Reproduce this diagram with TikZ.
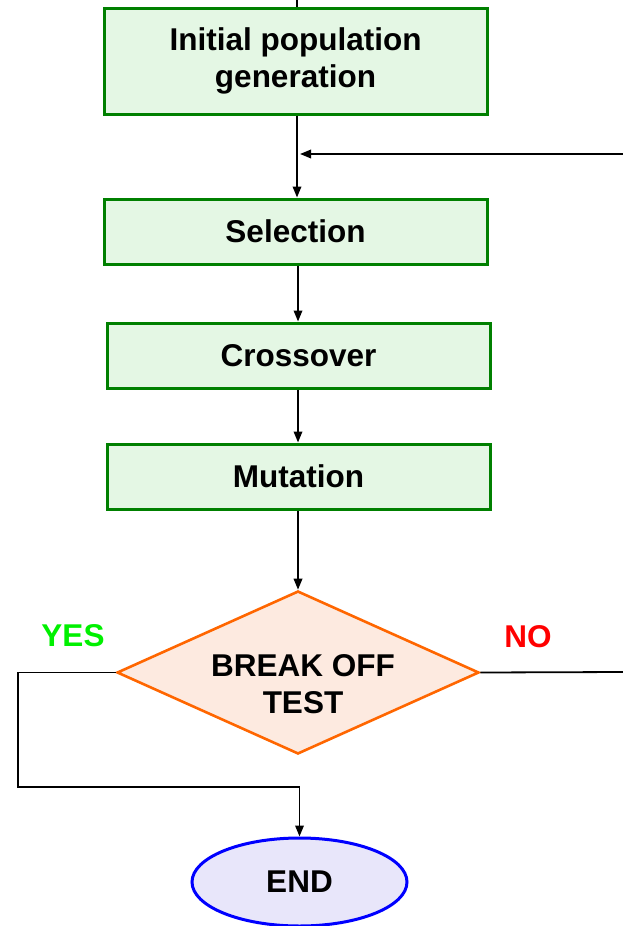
\documentclass[tikz,border=0pt]{standalone}
\usepackage{fontspec}
\setmainfont{Liberation Sans}
\usetikzlibrary{shapes.geometric,arrows.meta}
\definecolor{boxgreen}{RGB}{0,128,0}
\definecolor{boxfill}{RGB}{228,247,228}
\definecolor{testorange}{RGB}{255,102,0}
\definecolor{testfill}{RGB}{253,234,224}
\definecolor{endblue}{RGB}{0,0,255}
\definecolor{endfill}{RGB}{232,230,250}
\definecolor{yesgreen}{RGB}{0,240,0}
\definecolor{nored}{RGB}{255,0,0}
\tikzset{
  txt/.style={font=\bfseries\fontsize{31.5}{37}\selectfont, align=center},
  stepbox/.style={txt, draw=boxgreen, fill=boxfill, line width=3pt,
    rectangle, minimum width=383pt, inner sep=0pt},
  testbox/.style={draw=testorange, fill=testfill, line width=2.6pt, diamond,
    minimum width=362pt, minimum height=163pt, inner sep=0pt},
  endbox/.style={txt, draw=endblue, fill=endfill, line width=3pt, ellipse,
    minimum width=215pt, minimum height=88pt, inner sep=0pt},
  conn/.style={line width=1.8pt, black},
  arr/.style={conn, -{Triangle[length=11pt,width=8.5pt]}},
}
\begin{document}
\begin{tikzpicture}[x=1pt,y=-1pt]
\useasboundingbox (0,0) rectangle (623,926);
% vertical axis of the flow
\coordinate (axis) at (298,0);
\coordinate (topin) at (297,0);
\coordinate (loopin) at (623,154);
\coordinate (noR) at (623,672);
\coordinate (yesL) at (18,787);

% process steps
\node[stepbox, minimum height=106pt] (init) at (295.5,61) {Initial population\\generation};
\node[stepbox, minimum height=65pt] (sel) at (295.5,231.5) {Selection};
\node[stepbox, minimum height=65pt] (cross) at (298.5,355.5) {Crossover};
\node[stepbox, minimum height=65pt] (mut) at (298.5,476.5) {Mutation};

% termination test
\node[testbox] (test) at (298,672.5) {};
\node[txt] (testlbl) at (303,684) {BREAK OFF\\TEST};
\node[txt, text=yesgreen] (yes) at (73,636) {YES};
\node[txt, text=nored] (no) at (528,637) {NO};

% end
\node[endbox] (endn) at (299.5,882) {END};

% connectors
\draw[conn] (topin) -- (topin |- init.north);
\draw[arr] (init.south -| topin) -- (sel.north -| topin);
\draw[arr, shorten >=3pt] (loopin) -- (loopin -| topin);
\draw[arr] (sel.south -| axis) -- (cross.north -| axis);
\draw[arr] (cross.south -| axis) -- (mut.north -| axis);
\draw[arr] (mut.south -| test.north) -- (test.north);
\draw[conn] (test.east) -- (noR);
\draw[arr] (test.west) -| (yesL) -| (endn.north);
\end{tikzpicture}
\end{document}
